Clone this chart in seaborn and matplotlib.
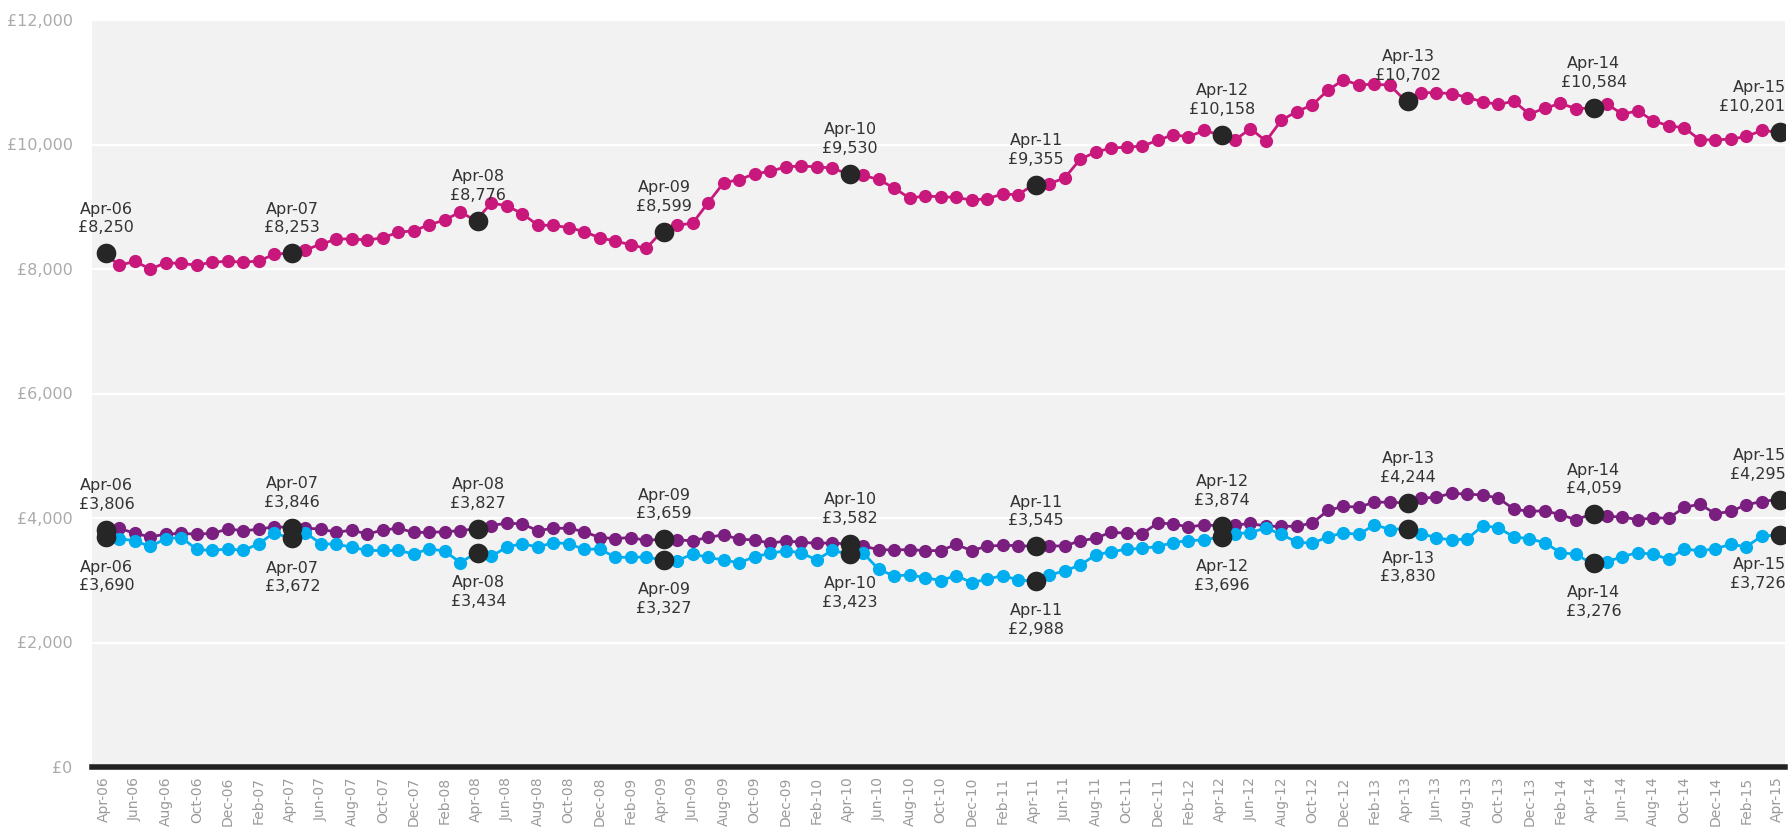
import matplotlib
matplotlib.use("Agg")
import matplotlib.pyplot as plt
import matplotlib.transforms as mtrans
from matplotlib.ticker import FuncFormatter
import pandas as pd
import seaborn as sns

# Monthly observations, April 2006 to April 2015
months = pd.date_range("2006-04-01", "2015-04-01", freq="MS").strftime("%b-%y").tolist()

series_top = [
    8250, 8061, 8122, 8000, 8100, 8089, 8061, 8111, 8122, 8111, 8128, 8239,
    8253, 8305, 8400, 8477, 8488, 8461, 8505, 8588, 8616, 8710, 8788, 8916,
    8776, 9060, 9016, 8888, 8705, 8699, 8666, 8600, 8500, 8450, 8389, 8330,
    8599, 8700, 8738, 9065, 9386, 9434, 9530, 9567, 9642, 9653, 9642, 9621,
    9530, 9503, 9439, 9300, 9139, 9172, 9161, 9150, 9107, 9129, 9204, 9193,
    9355, 9370, 9460, 9760, 9878, 9942, 9958, 9974, 10065, 10156, 10124, 10225,
    10158, 10072, 10255, 10055, 10391, 10530, 10637, 10873, 11038, 10958, 10969, 10953,
    10702, 10835, 10830, 10819, 10755, 10685, 10643, 10696, 10487, 10584, 10659, 10578,
    10584, 10653, 10487, 10541, 10380, 10300, 10268, 10075, 10075, 10086, 10129, 10225,
    10201,
]

series_mid = [
    3806, 3835, 3752, 3698, 3741, 3752, 3741, 3752, 3824, 3796, 3818, 3862,
    3846, 3835, 3824, 3769, 3807, 3741, 3807, 3835, 3769, 3769, 3780, 3796,
    3827, 3879, 3917, 3906, 3796, 3835, 3835, 3780, 3686, 3670, 3686, 3640,
    3659, 3650, 3632, 3691, 3729, 3659, 3648, 3594, 3632, 3610, 3595, 3600,
    3582, 3550, 3492, 3487, 3492, 3476, 3476, 3575, 3476, 3546, 3562, 3556,
    3545, 3551, 3551, 3632, 3675, 3772, 3756, 3745, 3918, 3907, 3853, 3892,
    3874, 3884, 3914, 3867, 3867, 3867, 3920, 4122, 4186, 4175, 4254, 4254,
    4244, 4318, 4334, 4398, 4382, 4371, 4318, 4143, 4106, 4117, 4053, 3974,
    4059, 4027, 4016, 3974, 4000, 4000, 4170, 4223, 4069, 4106, 4212, 4265,
    4295,
]

series_low = [
    3690, 3670, 3631, 3543, 3670, 3686, 3494, 3478, 3505, 3478, 3588, 3764,
    3672, 3764, 3588, 3577, 3533, 3478, 3478, 3478, 3423, 3505, 3467, 3285,
    3434, 3384, 3533, 3588, 3533, 3604, 3588, 3494, 3505, 3368, 3368, 3375,
    3327, 3315, 3421, 3367, 3324, 3281, 3378, 3432, 3475, 3440, 3327, 3480,
    3423, 3440, 3175, 3070, 3086, 3043, 2995, 3075, 2963, 3016, 3075, 3005,
    2988, 3081, 3151, 3243, 3405, 3459, 3497, 3513, 3540, 3605, 3637, 3647,
    3696, 3745, 3767, 3840, 3735, 3613, 3592, 3698, 3762, 3735, 3894, 3815,
    3830, 3751, 3682, 3645, 3666, 3878, 3841, 3698, 3666, 3603, 3444, 3417,
    3276, 3295, 3380, 3444, 3417, 3338, 3507, 3470, 3507, 3576, 3539, 3709,
    3726,
]

y_ticks = [0, 2000, 4000, 6000, 8000, 10000, 12000]

df = pd.DataFrame({
    "month": months,
    "idx": range(len(months)),
    "top": series_top,
    "mid": series_mid,
    "low": series_low,
})
april = df[df["month"].str.startswith("Apr")]

colors = {"top": "#c8187c", "mid": "#7a1f7f", "low": "#00adee"}
label_side = {"top": "above", "mid": "above", "low": "below"}

sns.set_theme(style="white")
plt.rcParams["font.family"] = ["DejaVu Sans"]

fig = plt.figure(figsize=(17.9, 8.27), dpi=100)
ax = fig.add_axes([92 / 1790, 1 - 767 / 827, (1785 - 92) / 1790, (767 - 20) / 827])
ax.set_facecolor("#f2f2f2")

for col in ["top", "mid", "low"]:
    sns.lineplot(data=df, x="idx", y=col, ax=ax, color=colors[col], linewidth=2.0,
                 marker="o", markersize=9.5, markeredgewidth=0, zorder=3)

# April highlights sit a touch to the right of the monthly dots
shift = mtrans.ScaledTranslation(2.5 / 100, 0, fig.dpi_scale_trans)
for col in ["top", "mid", "low"]:
    sns.scatterplot(data=april, x="idx", y=col, ax=ax, color="#262626", s=200,
                    linewidth=0, zorder=5)
    ax.collections[-1].set_offset_transform(ax.transData + shift)

last_idx = df["idx"].iloc[-1]
for col in ["top", "mid", "low"]:
    for _, row in april.iterrows():
        value = row[col]
        text = f"{row['month']}\n£{value:,}"
        if row["idx"] == last_idx:
            ha, dx = "right", 6
        else:
            ha, dx = "center", 1.8
        if label_side[col] == "above":
            va, dy = "bottom", 13
        else:
            va, dy = "top", -16
        ax.annotate(text, xy=(row["idx"], value), xytext=(dx, dy),
                    textcoords="offset points", ha=ha, va=va, fontsize=11.5,
                    color="#333333", linespacing=1.3, zorder=6)

ax.set_xlim(-0.77, 108.5)
ax.set_ylim(0, 12000)
ax.set_yticks(y_ticks)
ax.yaxis.set_major_formatter(FuncFormatter(lambda v, _: f"£{int(v):,}"))
ax.set_xticks(df["idx"][::2])
ax.set_xticklabels(df["month"][::2], rotation=90)
ax.tick_params(axis="x", length=0, pad=7, labelsize=10, labelcolor="#9a9a9a")
ax.tick_params(axis="y", length=0, pad=14, labelsize=11.5, labelcolor="#ababab")
ax.set_xlabel("")
ax.set_ylabel("")

ax.yaxis.grid(True, color="white", linewidth=1.6, zorder=0)
ax.xaxis.grid(False)
ax.set_axisbelow(True)
for side in ["top", "left", "right"]:
    ax.spines[side].set_visible(False)
ax.spines["bottom"].set_color("#222222")
ax.spines["bottom"].set_linewidth(4)

fig.savefig("out.png", dpi=100, facecolor="white")
